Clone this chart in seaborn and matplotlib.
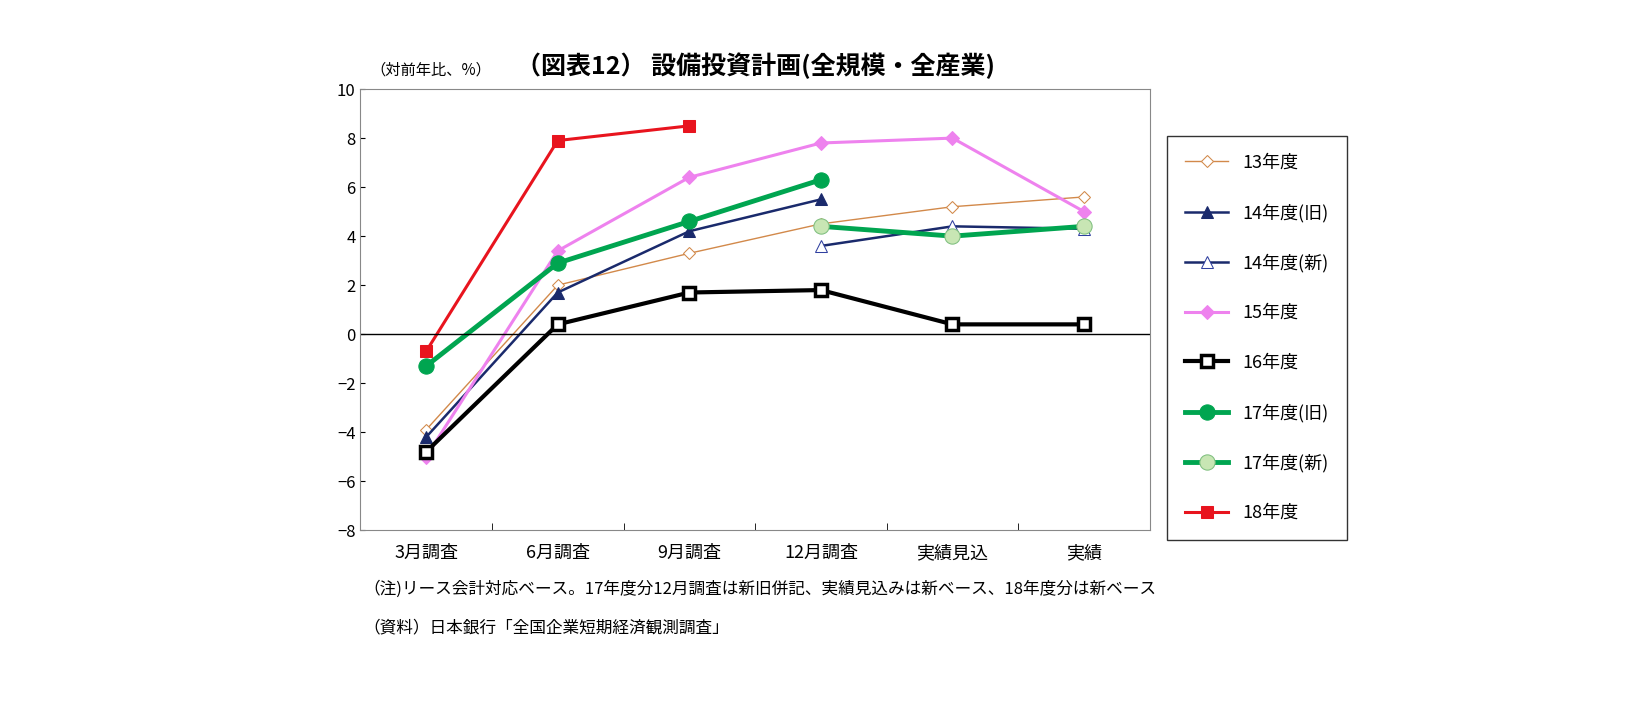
import numpy as np
import pandas as pd
import seaborn as sns
import matplotlib.pyplot as plt

plt.rcParams['font.family'] = 'Noto Sans CJK JP'
nan = np.nan
categories = ["3月調査", "6月調査", "9月調査", "12月調査", "実績見込", "実績"]
s13 = [-3.9, 2.0, 3.3, 4.5, 5.2, 5.6]
s14_old = [-4.2, 1.7, 4.2, 5.5, nan, nan]
s14_new = [nan, nan, nan, 3.6, 4.4, 4.3]
s15 = [-5.0, 3.4, 6.4, 7.8, 8.0, 5.0]
s16 = [-4.8, 0.4, 1.7, 1.8, 0.4, 0.4]
s17_old = [-1.3, 2.9, 4.6, 6.3, nan, nan]
s17_new = [nan, nan, nan, 4.4, 4.0, 4.4]
s18 = [-0.7, 7.9, 8.5, nan, nan, nan]

series = [
    ("13年度", s13, dict(color="#D2894A", lw=1, marker="D", ms=6, mfc="white", mec="#D2894A")),
    ("14年度(旧)", s14_old, dict(color="#1A2A6C", lw=1.8, marker="^", ms=8, mfc="#1A2A6C", mec="#1A2A6C")),
    ("14年度(新)", s14_new, dict(color="#1A2A6C", lw=1.8, marker="^", ms=8, mfc="white", mec="#3040A0")),
    ("15年度", s15, dict(color="#EE82EE", lw=2.2, marker="D", ms=7, mfc="#EE82EE", mec="#EE82EE")),
    ("16年度", s16, dict(color="black", lw=3, marker="s", ms=8, mfc="white", mec="black", mew=2.5)),
    ("17年度(旧)", s17_old, dict(color="#00A550", lw=3.5, marker="o", ms=11, mfc="#00A550", mec="#00A550")),
    ("17年度(新)", s17_new, dict(color="#00A550", lw=3.5, marker="o", ms=11, mfc="#C8E6B4", mec="#7FBF7F")),
    ("18年度", s18, dict(color="#E8141E", lw=2.2, marker="s", ms=9, mfc="#E8141E", mec="#E8141E")),
]

fig = plt.figure(figsize=(16.38, 7.07), dpi=100)
ax = fig.add_axes([0.22, 0.25, 0.482, 0.624])
x = np.arange(len(categories))
for name, vals, st in series:
    df = pd.DataFrame({"x": x, "y": vals}).dropna()
    sns.lineplot(data=df, x="x", y="y", ax=ax, label=name, **st)

ax.axhline(0, color="black", lw=1)
ax.set_xlim(-0.5, 5.5)
ax.set_ylim(-8, 10)
ax.set_yticks(range(-8, 11, 2))
ax.set_xticks(x)
ax.set_xticklabels(categories, fontsize=13)
ax.set_xticks(np.arange(-0.5, 6, 1), minor=True)
ax.tick_params(axis='x', which='major', length=0, pad=10)
ax.tick_params(axis='x', which='minor', length=5, direction='in')
ax.tick_params(axis='y', labelsize=12, direction='in')
ax.set_xlabel(""); ax.set_ylabel("")
for s in ax.spines.values():
    s.set_color("#888888")

leg = ax.legend(loc="upper left", bbox_to_anchor=(1.01, 0.915), frameon=True, fancybox=False,
                edgecolor="black", fontsize=13, labelspacing=1.75, handlelength=2.4, borderpad=1.0)

fig.text(0.226, 0.895, "（対前年比、%）", fontsize=11)
fig.text(0.315, 0.895, "（図表12） 設備投資計画(全規模・全産業)", fontsize=18, fontweight="bold")
fig.text(0.222, 0.16, "（注)リース会計対応ベース。17年度分12月調査は新旧併記、実績見込みは新ベース、18年度分は新ベース", fontsize=12)
fig.text(0.222, 0.105, "（資料）日本銀行「全国企業短期経済観測調査」", fontsize=12)
fig.savefig("out.png", dpi=100)
